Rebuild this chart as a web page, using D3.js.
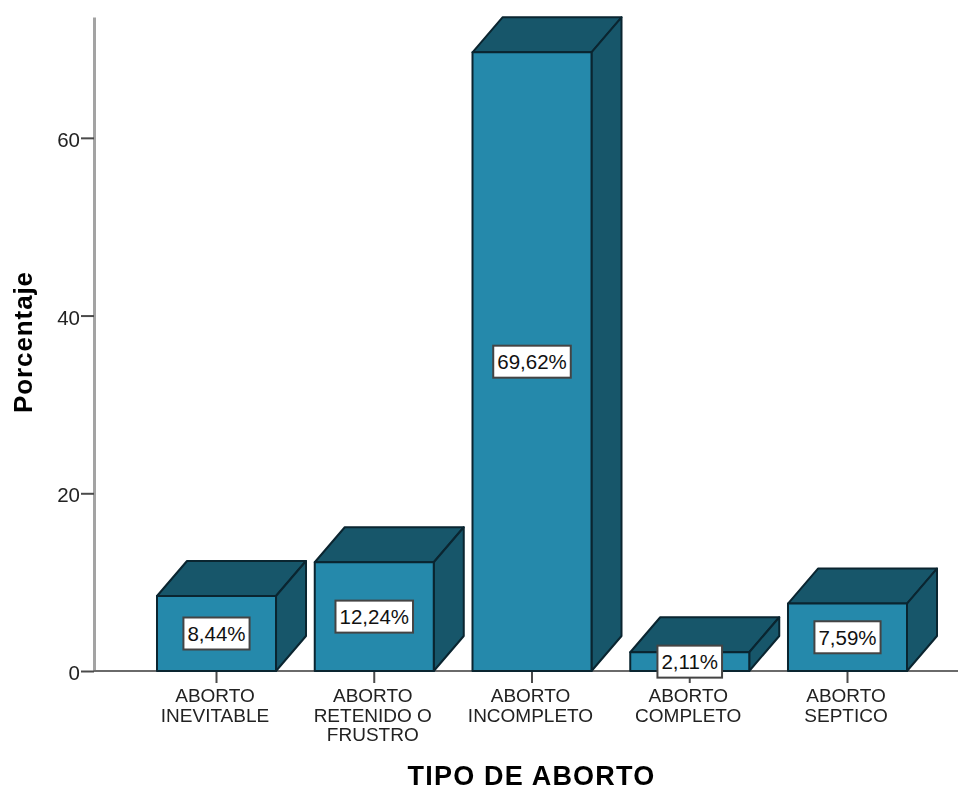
<!DOCTYPE html>
<html>
<head>
<meta charset="utf-8">
<script src="https://cdn.jsdelivr.net/npm/d3@7/dist/d3.min.js"></script>
<style>
html,body{margin:0;padding:0;background:#fff}
svg{display:block;filter:blur(0.45px)}
text{font-family:"Liberation Sans",Arial,sans-serif;fill:#222}
</style>
</head>
<body>
<svg id="c" width="960" height="789"></svg>
<script>
const categories = ["ABORTO INEVITABLE","ABORTO RETENIDO O FRUSTRO","ABORTO INCOMPLETO","ABORTO COMPLETO","ABORTO SEPTICO"];
const tickLines = [["ABORTO","INEVITABLE"],["ABORTO","RETENIDO O","FRUSTRO"],["ABORTO","INCOMPLETO"],["ABORTO","COMPLETO"],["ABORTO","SEPTICO"]];
const values = [8.44,12.24,69.62,2.11,7.59];
const valueLabels = ["8,44%","12,24%","69,62%","2,11%","7,59%"];
const yTicks = [0,20,40,60];
const yTitle = "Porcentaje";
const xTitle = "TIPO DE ABORTO";

const svg = d3.select("#c");
const x = d3.scaleBand().domain(categories).range([157,907]).paddingInner(0.2456).paddingOuter(0);
const y = d3.scaleLinear().domain([0,73.6]).range([671,17]);
const dx = 30, dy = 35;
const front = "#2589ab", dark = "#17566a", edge = "#0a2530";

// axes
const yAxis = d3.axisLeft(y).tickValues(yTicks).tickSize(13).tickSizeOuter(0).tickPadding(1).tickFormat(d3.format("d"));
const gy = svg.append("g").attr("transform","translate(94,0)").call(yAxis);
gy.select(".domain").attr("stroke","#a3a3a3").attr("stroke-width",3);
gy.selectAll(".tick line").attr("stroke","#4a4a4a").attr("stroke-width",2);
gy.selectAll(".tick text").attr("font-size",20.5).attr("font-family","Liberation Sans").attr("dy","0.42em");

const xAxis = d3.axisBottom(x).tickSize(12).tickFormat("");
const gx = svg.append("g").attr("transform","translate(0,671)").call(xAxis);
gx.select(".domain").remove();
gx.selectAll(".tick line").attr("stroke","#4a4a4a").attr("stroke-width",2);
svg.append("line").attr("x1",94).attr("x2",958).attr("y1",y(0)).attr("y2",y(0)).attr("stroke","#6a6a6a").attr("stroke-width",2);

// multi-line category labels
const lab = svg.append("g").selectAll("text").data(categories).join("text")
  .attr("text-anchor","middle").attr("font-size",19);
lab.each(function(d,i){
  d3.select(this).selectAll("tspan").data(tickLines[i]).join("tspan")
    .attr("x",x(d)+x.bandwidth()/2-1.5)
    .attr("y",(t,j)=>702+j*19.5)
    .text(t=>t);
});

// 3D bars
const bars = svg.append("g").selectAll("g").data(categories).join("g");
bars.each(function(d,i){
  const g = d3.select(this);
  const l = x(d), r = l+x.bandwidth(), t = y(values[i]), b = y(0);
  const style = s => s.attr("stroke",edge).attr("stroke-width",2).attr("stroke-linejoin","round");
  style(g.append("path").attr("fill",dark)
    .attr("d",d3.line()([[l,t],[l+dx,t-dy],[r+dx,t-dy],[r,t]])+"Z"));
  style(g.append("path").attr("fill",dark)
    .attr("d",d3.line()([[r,t],[r+dx,t-dy],[r+dx,b-dy],[r,b]])+"Z"));
  style(g.append("rect").attr("fill",front).attr("x",l).attr("y",t).attr("width",x.bandwidth()).attr("height",b-t));
});

// value labels
const vg = svg.append("g").selectAll("g").data(categories).join("g")
  .attr("transform",(d,i)=>`translate(${x(d)+x.bandwidth()/2},${y(values[i]/2)})`);
vg.append("text").attr("class","v").attr("text-anchor","middle").attr("dy","0.36em").attr("font-size",20.5)
  .style("fill","#111").text((d,i)=>valueLabels[i]);
vg.each(function(){
  const g = d3.select(this), bb = g.select("text").node().getBBox();
  g.insert("rect","text").attr("x",bb.x-4).attr("width",bb.width+8).attr("y",-16).attr("height",32)
    .attr("fill","#fff").attr("stroke","#444").attr("stroke-width",2);
});

// axis titles
svg.append("text").attr("x",531.5).attr("y",785).attr("text-anchor","middle")
  .attr("font-size",27).attr("font-weight","bold").attr("letter-spacing","1.2").style("fill","#000").text(xTitle);
svg.append("text").attr("transform","translate(32,342) rotate(-90)").attr("text-anchor","middle")
  .attr("font-size",26).attr("font-weight","bold").attr("letter-spacing","0.9").style("fill","#000").text(yTitle);
</script>
</body>
</html>
